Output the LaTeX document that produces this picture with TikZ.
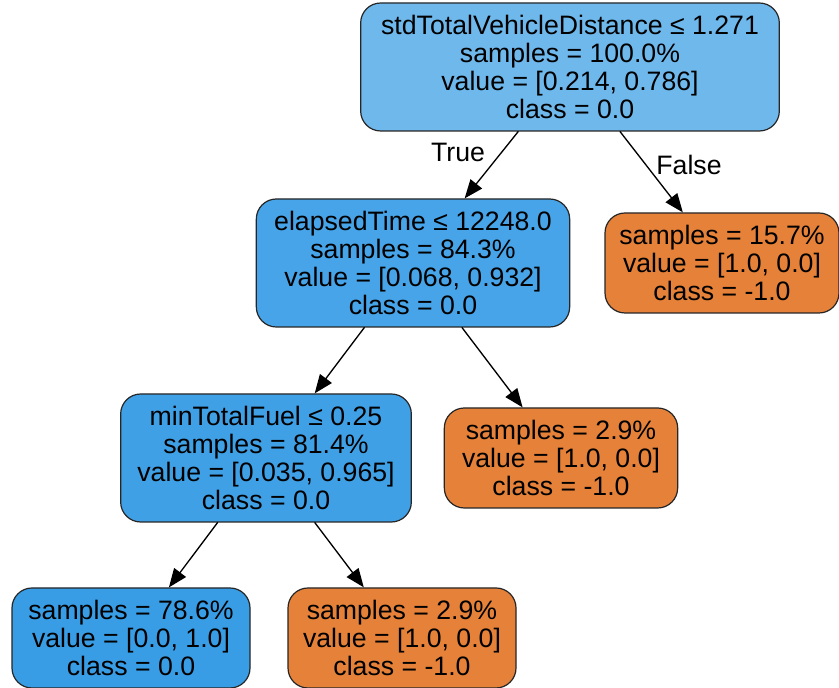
\documentclass[tikz,border=0pt]{standalone}
\usepackage{fontspec}
\setmainfont{Liberation Sans}
\usepackage{tikz}
\usetikzlibrary{arrows.meta}

\definecolor{rootblue}{HTML}{6FB8EC}
\definecolor{midblue}{HTML}{47A4E8}
\definecolor{deepblue}{HTML}{40A0E6}
\definecolor{leafblue}{HTML}{399DE5}
\definecolor{leaforange}{HTML}{E58139}

\tikzset{
  treenode/.style={draw=black!85,line width=0.9pt,rounded corners=15pt,align=center,
    inner sep=0pt,font=\fontsize{20}{21}\selectfont},
  splitbox/.style={treenode,minimum height=96pt},
  leafbox/.style={treenode,minimum height=75pt},
  treeedge/.style={line width=1pt,-{Triangle[length=14pt,width=11pt]}}
}

\begin{document}
\begin{tikzpicture}[line cap=round,line join=round,x=0.75pt,y=0.75pt]
\useasboundingbox (0,0) rectangle (839,688);
\fill[white] (0,0) rectangle (839,688);

\node[splitbox,fill=rootblue,minimum width=314pt] (root) at (570,621)
  {stdTotalVehicleDistance ≤ 1.271\\samples = 100.0\%\\value = [0.214, 0.786]\\class = 0.0};
\node[splitbox,fill=midblue,minimum width=235pt] (elapsed) at (413,425)
  {elapsedTime ≤ 12248.0\\samples = 84.3\%\\value = [0.068, 0.932]\\class = 0.0};
\node[leafbox,fill=leaforange,minimum width=175.5pt] (leafa) at (722,425)
  {samples = 15.7\%\\value = [1.0, 0.0]\\class = -1.0};
\node[splitbox,fill=deepblue,minimum width=218pt] (minfuel) at (266,230)
  {minTotalFuel ≤ 0.25\\samples = 81.4\%\\value = [0.035, 0.965]\\class = 0.0};
\node[leafbox,fill=leaforange,minimum width=175pt] (leafb) at (561,230)
  {samples = 2.9\%\\value = [1.0, 0.0]\\class = -1.0};
\node[leafbox,fill=leafblue,minimum width=178.5pt] (leafc) at (131,50)
  {samples = 78.6\%\\value = [0.0, 1.0]\\class = 0.0};
\node[leafbox,fill=leaforange,minimum width=171pt] (leafd) at (402,50)
  {samples = 2.9\%\\value = [1.0, 0.0]\\class = -1.0};

\draw[treeedge] (root) -- (elapsed);
\draw[treeedge] (root) -- (leafa);
\draw[treeedge] (elapsed) -- (minfuel);
\draw[treeedge] (elapsed) -- (leafb);
\draw[treeedge] (minfuel) -- (leafc);
\draw[treeedge] (minfuel) -- (leafd);

\node[font=\fontsize{20}{21}\selectfont] (truelbl) at (458,536) {True};
\node[font=\fontsize{20}{21}\selectfont] (falselbl) at (689,523) {False};
\end{tikzpicture}
\end{document}
